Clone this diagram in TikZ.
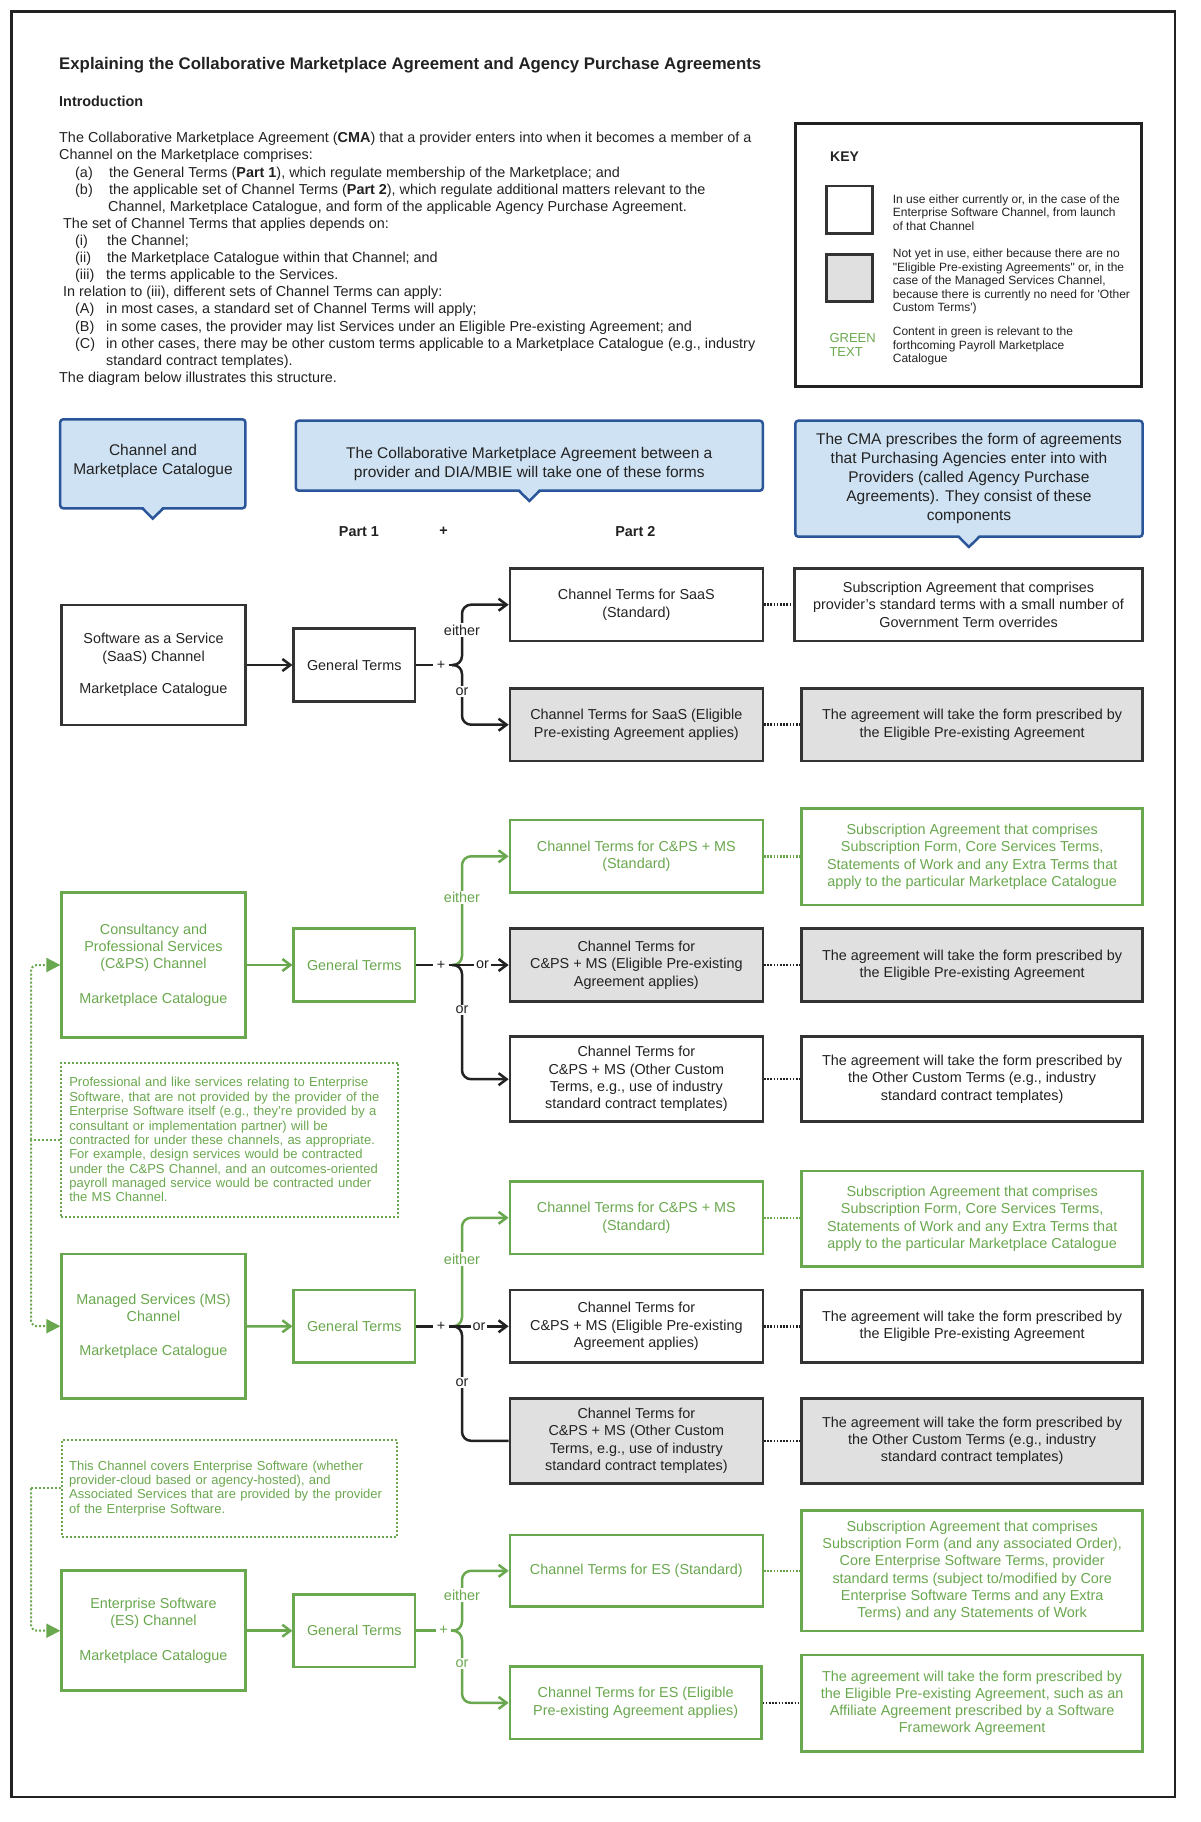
\documentclass[tikz,border=0pt]{standalone}
\usepackage{fontspec}
\setmainfont{Liberation Sans}
\usetikzlibrary{arrows.meta}
\definecolor{gr}{HTML}{6AA84F}
\definecolor{ink}{HTML}{222222}
\definecolor{bord}{HTML}{333333}
\definecolor{grayfill}{HTML}{E0E0E0}
\definecolor{bfill}{HTML}{CFE2F3}
\definecolor{bline}{HTML}{2A5599}
\newcommand\fsz[2]{\fontsize{#1pt}{#2pt}\selectfont}
\begin{document}
\begin{tikzpicture}[x=1pt,y=-1pt,
  box/.style={draw=bord, line width=2.5pt, fill=white, align=center, inner sep=2pt, font=\fsz{14.4}{17.3}, text=ink},
  gbox/.style={box, draw=gr, text=gr},
  graybox/.style={box, fill=grayfill},
  callout/.style={draw=bline, fill=bfill, line width=2.5pt, rounded corners=3pt},
  hdrtxt/.style={align=center, font=\fsz{15.5}{18.5}, text=ink, inner sep=0},
  arr/.style={line width=2.5pt, draw=ink, -{Straight Barb[length=8pt,width=12pt]}},
  garr/.style={arr, draw=gr},
  ln/.style={line width=2.5pt, draw=ink},
  gln/.style={ln, draw=gr},
  dots/.style={line width=2.5pt, draw=ink, dash pattern=on 1.6pt off 1.6pt},
  gdots/.style={dots, draw=gr},
  gthin/.style={line width=2pt, draw=gr, dash pattern=on 2pt off 2pt},
  lbl/.style={font=\fsz{14.4}{17.3}, text=ink, fill=white, inner sep=1.5pt},
  glbl/.style={lbl, text=gr},
  plus/.style={font=\fsz{14.4}{17.3}, text=ink, inner sep=3.2pt},
  gplus/.style={plus, text=gr},
  intro/.style={anchor=base west, inner sep=0, font=\fsz{14.4}{17.2}, text=ink},
  note/.style={draw=gr, line width=2pt, dash pattern=on 2pt off 2pt, align=left, text=gr, font=\fsz{13}{14.35}},
  keytxt/.style={anchor=west, align=left, inner sep=0, font=\fsz{12}{13.5}, text=ink}
]
\useasboundingbox (0,0) rectangle (1200,1822);
\draw[line width=2.5pt, draw=ink] (11.6,11.6) rectangle (1175,1797);

% ---------- title & intro ----------
\node[anchor=base west, inner sep=0, font=\bfseries\fsz{16.8}{20}, text=ink] (title) at (59,70) {Explaining the Collaborative Marketplace Agreement and Agency Purchase Agreements};
\node[anchor=base west, inner sep=0, font=\bfseries\fsz{14.4}{17}, text=ink] (introh) at (59,106.9) {Introduction};

\node[intro] (i1) at (59,142.9) {The Collaborative Marketplace Agreement (\textbf{CMA}) that a provider enters into when it becomes a member of a};
\node[intro] (i2) at (59,160) {Channel on the Marketplace comprises:};
\node[intro] (i3) at (75,177.1) {\makebox[34pt][l]{(a)}the General Terms (\textbf{Part 1}), which regulate membership of the Marketplace; and};
\node[intro] (i4) at (75,194.2) {\makebox[34pt][l]{(b)}the applicable set of Channel Terms (\textbf{Part 2}), which regulate additional matters relevant to the};
\node[intro] (i5) at (108,211.3) {Channel, Marketplace Catalogue, and form of the applicable Agency Purchase Agreement.};
\node[intro] (i6) at (63,228.4) {The set of Channel Terms that applies depends on:};
\node[intro] (i7) at (75,245.5) {\makebox[32pt][l]{(i)}the Channel;};
\node[intro] (i8) at (75,262.6) {\makebox[32pt][l]{(ii)}the Marketplace Catalogue within that Channel; and};
\node[intro] (i9) at (75,279.7) {\makebox[31pt][l]{(iii)}the terms applicable to the Services.};
\node[intro] (i10) at (63,296.8) {In relation to (iii), different sets of Channel Terms can apply:};
\node[intro] (i11) at (75,313.9) {\makebox[31pt][l]{(A)}in most cases, a standard set of Channel Terms will apply;};
\node[intro] (i12) at (75,331) {\makebox[31pt][l]{(B)}in some cases, the provider may list Services under an Eligible Pre-existing Agreement; and};
\node[intro] (i13) at (75,348.1) {\makebox[31pt][l]{(C)}in other cases, there may be other custom terms applicable to a Marketplace Catalogue (e.g., industry};
\node[intro] (i14) at (106,365.2) {standard contract templates).};
\node[intro] (i15) at (59,382.3) {The diagram below illustrates this structure.};

% ---------- key ----------
\node[draw=ink, line width=3pt, minimum width=346.7pt, minimum height=263.4pt] (key) at (968.35,255) {};
\node[anchor=west, inner sep=0, font=\bfseries\fsz{14}{16}, text=ink] (keyh) at (830,156.7) {KEY};
\node[draw=bord, line width=2.5pt, fill=white, minimum width=45.6pt, minimum height=47.3pt] (keyw) at (849.5,209.7) {};
\node[draw=bord, line width=2.5pt, fill=grayfill, minimum width=45.6pt, minimum height=47.3pt] (keyg) at (849.5,278) {};
\node[keytxt] (keyt1) at (892.7,212.7) {In use either currently or, in the case of the\\Enterprise Software Channel, from launch\\of that Channel};
\node[keytxt] (keyt2) at (892.7,281.7) {Not yet in use, either because there are no\\ \textquotedbl Eligible Pre-existing Agreements\textquotedbl\ or, in the\\case of the Managed Services Channel,\\because there is currently no need for \textquotesingle Other\\Custom Terms\textquotesingle)};
\node[keytxt] (keyt3) at (892.7,346.3) {Content in green is relevant to the\\forthcoming Payroll Marketplace\\Catalogue};
\node[keytxt, font=\fsz{13}{14.6}, text=gr] (keygt) at (829.3,345) {GREEN\\TEXT};

% ---------- header callouts ----------
\node[callout, minimum width=185.2pt, minimum height=89pt] (hdr1) at (152.8,463.8) {};
\node[callout, minimum width=467pt, minimum height=70pt] (hdr2) at (529.3,455.7) {};
\node[callout, minimum width=347.3pt, minimum height=116pt] (hdr3) at (968.95,478.7) {};
\foreach \h in {hdr1,hdr2,hdr3}{
  \fill[bfill] ([xshift=-10pt,yshift=3.2pt]\h.south) -- ([yshift=-9pt]\h.south) -- ([xshift=10pt,yshift=3.2pt]\h.south) -- cycle;
  \draw[bline, line width=2.5pt, line join=miter] ([xshift=-10.5pt,yshift=1.25pt]\h.south) -- ([yshift=-9pt]\h.south) -- ([xshift=10.5pt,yshift=1.25pt]\h.south);
}
\node[hdrtxt] (hdr1t) at (153,460.8) {Channel and\\Marketplace Catalogue};
\node[hdrtxt] (hdr2t) at (529.3,463.9) {The Collaborative Marketplace Agreement between a\\provider and DIA/MBIE will take one of these forms};
\node[hdrtxt, font=\fsz{15.5}{18.8}] (hdr3t) at (969,478.4) {The CMA prescribes the form of agreements\\that Purchasing Agencies enter into with\\Providers (called Agency Purchase\\Agreements). They consist of these\\components};

\node[font=\bfseries\fsz{14.4}{17}, text=ink] (p1) at (359,531.7) {Part 1};
\node[font=\bfseries\fsz{14.4}{17}, text=ink] (pplus) at (443.6,531.7) {+};
\node[font=\bfseries\fsz{14.4}{17}, text=ink] (p2) at (635.3,531.7) {Part 2};

% ---------- SaaS ----------
\node[box, minimum width=183.8pt, minimum height=120pt] (saasch) at (153.5,665) {Software as a Service\\(SaaS) Channel\\[15pt]Marketplace Catalogue};
\node[box, minimum width=121.1pt, minimum height=73.4pt] (saasgt) at (354.25,665) {General Terms};
\node[box, minimum width=252.9pt, minimum height=72.7pt] (saasstd) at (636.35,604.7) {Channel Terms for SaaS\\(Standard)};
\node[graybox, minimum width=252.9pt, minimum height=72.7pt] (saasepa) at (636.35,724.7) {Channel Terms for SaaS (Eligible\\Pre-existing Agreement applies)};
\node[box, minimum width=348.1pt, minimum height=72.7pt] (saasr1) at (968.55,604.7) {Subscription Agreement that comprises\\provider's standard terms with a small number of\\Government Term overrides};
\node[graybox, minimum width=340.9pt, minimum height=72.7pt] (saasr2) at (972.15,724.7) {The agreement will take the form prescribed by\\the Eligible Pre-existing Agreement};

\draw[arr] (saasch) -- (saasgt);
\node[plus] (saasplus) at (441,665) {+};
\coordinate (saasj) at (452,665);
\draw[ln] (saasgt.east) -- (saasplus.west);
\draw[ln] (saasplus.east) -- (saasj);
\draw[arr, rounded corners=9pt] (saasj) -| (462,604.7) -- (saasstd.west);
\draw[arr, rounded corners=9pt] (saasj) -| (462,724.7) -- (saasepa.west);
\node[lbl] (saaseither) at (462,630) {either};
\node[lbl] (saasor) at (462,691.7) {or};
\draw[dots] (saasstd) -- (saasr1);
\draw[dots] (saasepa) -- (saasr2);

% ---------- C&PS ----------
\node[gbox, minimum width=183.8pt, minimum height=144.6pt] (cpsch) at (153.5,965) {Consultancy and\\Professional Services\\(C\&PS) Channel\\[17pt]Marketplace Catalogue};
\node[gbox, minimum width=121.1pt, minimum height=73.4pt] (cpsgt) at (354.25,965) {General Terms};
\node[gbox, minimum width=252.9pt, minimum height=72.7pt] (cpsstd) at (636.35,856.3) {Channel Terms for C\&PS + MS\\(Standard)};
\node[gbox, minimum width=340.9pt, minimum height=96.7pt] (cpsr1) at (972.15,856.7) {Subscription Agreement that comprises\\Subscription Form, Core Services Terms,\\Statements of Work and any Extra Terms that\\apply to the particular Marketplace Catalogue};
\node[graybox, minimum width=252.9pt, minimum height=73.4pt] (cpsepa) at (636.35,965) {Channel Terms for\\C\&PS + MS (Eligible Pre-existing\\Agreement applies)};
\node[graybox, minimum width=340.9pt, minimum height=73.4pt] (cpsr2) at (972.15,965) {The agreement will take the form prescribed by\\the Eligible Pre-existing Agreement};
\node[box, minimum width=252.9pt, minimum height=85pt] (cpsoth) at (636.35,1079.2) {Channel Terms for\\C\&PS + MS (Other Custom\\Terms, e.g., use of industry\\standard contract templates)};
\node[box, minimum width=340.9pt, minimum height=85pt] (cpsr3) at (972.15,1079.2) {The agreement will take the form prescribed by\\the Other Custom Terms (e.g., industry\\standard contract templates)};

\draw[garr] (cpsch) -- (cpsgt);
\node[plus] (cpsplus) at (441,965) {+};
\coordinate (cpsj) at (452,965);
\draw[ln] (cpsgt.east) -- (cpsplus.west);
\draw[garr, rounded corners=9pt] (cpsj) -| (462,856.3) -- (cpsstd.west);
\draw[arr, rounded corners=9pt] (cpsj) -| (462,1079.2) -- (cpsoth.west);
\node[lbl] (cpsor) at (482.5,965) {or};
\draw[ln] (cpsplus.east) -- (cpsor.west);
\draw[arr] (cpsor.east) -- (cpsepa.west);
\node[glbl] (cpseither) at (462,897.3) {either};
\node[lbl] (cpsor2) at (462,1010) {or};
\draw[gdots] (cpsstd.east) -- (cpsstd.east -| cpsr1.west);
\draw[dots] (cpsepa) -- (cpsr2);
\draw[dots] (cpsoth) -- (cpsr3);

% ---------- note 1 ----------
\node[note, text width=320.4pt, inner xsep=8.6pt, minimum height=154pt] (note1) at (229.5,1139.7) {Professional and like services relating to Enterprise\\Software, that are not provided by the provider of the\\Enterprise Software itself (e.g., they're provided by a\\consultant or implementation partner) will be\\contracted for under these channels, as appropriate.\\For example, design services would be contracted\\under the C\&PS Channel, and an outcomes-oriented\\payroll managed service would be contracted under\\the MS Channel.};

% ---------- MS ----------
\node[gbox, minimum width=183.8pt, minimum height=144.3pt] (msch) at (153.5,1326.2) {Managed Services (MS)\\Channel\\[17pt]Marketplace Catalogue};
\node[gbox, minimum width=121.1pt, minimum height=72.7pt] (msgt) at (354.25,1326.3) {General Terms};
\node[gbox, minimum width=252.9pt, minimum height=72.3pt] (msstd) at (636.35,1217.8) {Channel Terms for C\&PS + MS\\(Standard)};
\node[gbox, minimum width=340.9pt, minimum height=95.7pt] (msr1) at (972.15,1218.8) {Subscription Agreement that comprises\\Subscription Form, Core Services Terms,\\Statements of Work and any Extra Terms that\\apply to the particular Marketplace Catalogue};
\node[box, minimum width=252.9pt, minimum height=72.7pt] (msepa) at (636.35,1326.3) {Channel Terms for\\C\&PS + MS (Eligible Pre-existing\\Agreement applies)};
\node[box, minimum width=340.9pt, minimum height=72.7pt] (msr2) at (972.15,1326.3) {The agreement will take the form prescribed by\\the Eligible Pre-existing Agreement};
\node[graybox, minimum width=252.9pt, minimum height=85pt] (msoth) at (636.35,1440.8) {Channel Terms for\\C\&PS + MS (Other Custom\\Terms, e.g., use of industry\\standard contract templates)};
\node[graybox, minimum width=340.9pt, minimum height=85pt] (msr3) at (972.15,1440.8) {The agreement will take the form prescribed by\\the Other Custom Terms (e.g., industry\\standard contract templates)};

\draw[garr] (msch) -- (msgt);
\node[plus] (msplus) at (441,1326.3) {+};
\coordinate (msj) at (452,1326.3);
\draw[ln] (msgt.east) -- (msplus.west);
\draw[garr, rounded corners=9pt] (msj) -| (462,1217.8) -- (msstd.west);
\draw[ln, rounded corners=9pt] (msj) -| (462,1440.8) -- (msoth.west);
\node[lbl] (msor) at (479,1326.3) {or};
\draw[ln] (msplus.east) -- (msor.west);
\draw[arr] (msor.east) -- (msepa.west);
\node[glbl] (mseither) at (462,1259) {either};
\node[lbl] (msor2) at (462,1382.3) {or};
\draw[gdots] (msstd.east) -- (msstd.east -| msr1.west);
\draw[dots] (msepa) -- (msr2);
\draw[dots] (msoth) -- (msr3);

% ---------- note 2 ----------
\node[note, text width=320.1pt, inner xsep=7.5pt, minimum height=96.7pt] (note2) at (229.15,1488.3) {This Channel covers Enterprise Software (whether\\provider-cloud based or agency-hosted), and\\Associated Services that are provided by the provider\\of the Enterprise Software.};

% ---------- ES ----------
\node[gbox, minimum width=183.8pt, minimum height=120pt] (esch) at (153.5,1630.7) {Enterprise Software\\(ES) Channel\\[17pt]Marketplace Catalogue};
\node[gbox, minimum width=121.1pt, minimum height=72.3pt] (esgt) at (354.25,1630.7) {General Terms};
\node[gbox, minimum width=252.9pt, minimum height=71.7pt] (esstd) at (636.35,1570.8) {Channel Terms for ES (Standard)};
\node[gbox, minimum width=340.9pt, minimum height=120.3pt] (esr1) at (972.15,1570.8) {Subscription Agreement that comprises\\Subscription Form (and any associated Order),\\Core Enterprise Software Terms, provider\\standard terms (subject to/modified by Core\\Enterprise Software Terms and any Extra\\Terms) and any Statements of Work};
\node[gbox, minimum width=251.5pt, minimum height=72.3pt] (esepa) at (635.65,1702.8) {Channel Terms for ES (Eligible\\Pre-existing Agreement applies)};
\node[gbox, minimum width=340.9pt, minimum height=96.7pt] (esr2) at (972.15,1703.3) {The agreement will take the form prescribed by\\the Eligible Pre-existing Agreement, such as an\\Affiliate Agreement prescribed by a Software\\Framework Agreement};

\draw[garr] (esch) -- (esgt);
\node[gplus] (esplus) at (443.6,1630.7) {+};
\coordinate (esj) at (453,1630.7);
\draw[gln] (esgt.east) -- (esplus.west);
\draw[gln] (esplus.east) -- (esj);
\draw[garr, rounded corners=9pt] (esj) -| (462,1570.8) -- (esstd.west);
\draw[garr, rounded corners=9pt] (esj) -| (462,1702.8) -- (esepa.west);
\node[glbl] (eseither) at (462,1595) {either};
\node[glbl] (esor) at (462,1663.3) {or};
\draw[gdots] (esstd) -- (esr1);
\draw[dots] (esepa.east) -- (esepa.east -| esr2.west);

% ---------- left dotted connectors ----------
\coordinate (lb1) at (31,1139.7);
\coordinate (lb2) at (31,1488.3);
\draw[gthin] (note1.west) -- (lb1);
\draw[gthin, rounded corners=6pt, -{Triangle[length=14pt,width=14pt]}] (lb1) |- (cpsch.west);
\draw[gthin, rounded corners=6pt, -{Triangle[length=14pt,width=14pt]}] (lb1) |- (msch.west);
\draw[gthin] (note2.west) -- (lb2);
\draw[gthin, rounded corners=6pt, -{Triangle[length=14pt,width=14pt]}] (lb2) |- (esch.west);
\end{tikzpicture}
\end{document}
